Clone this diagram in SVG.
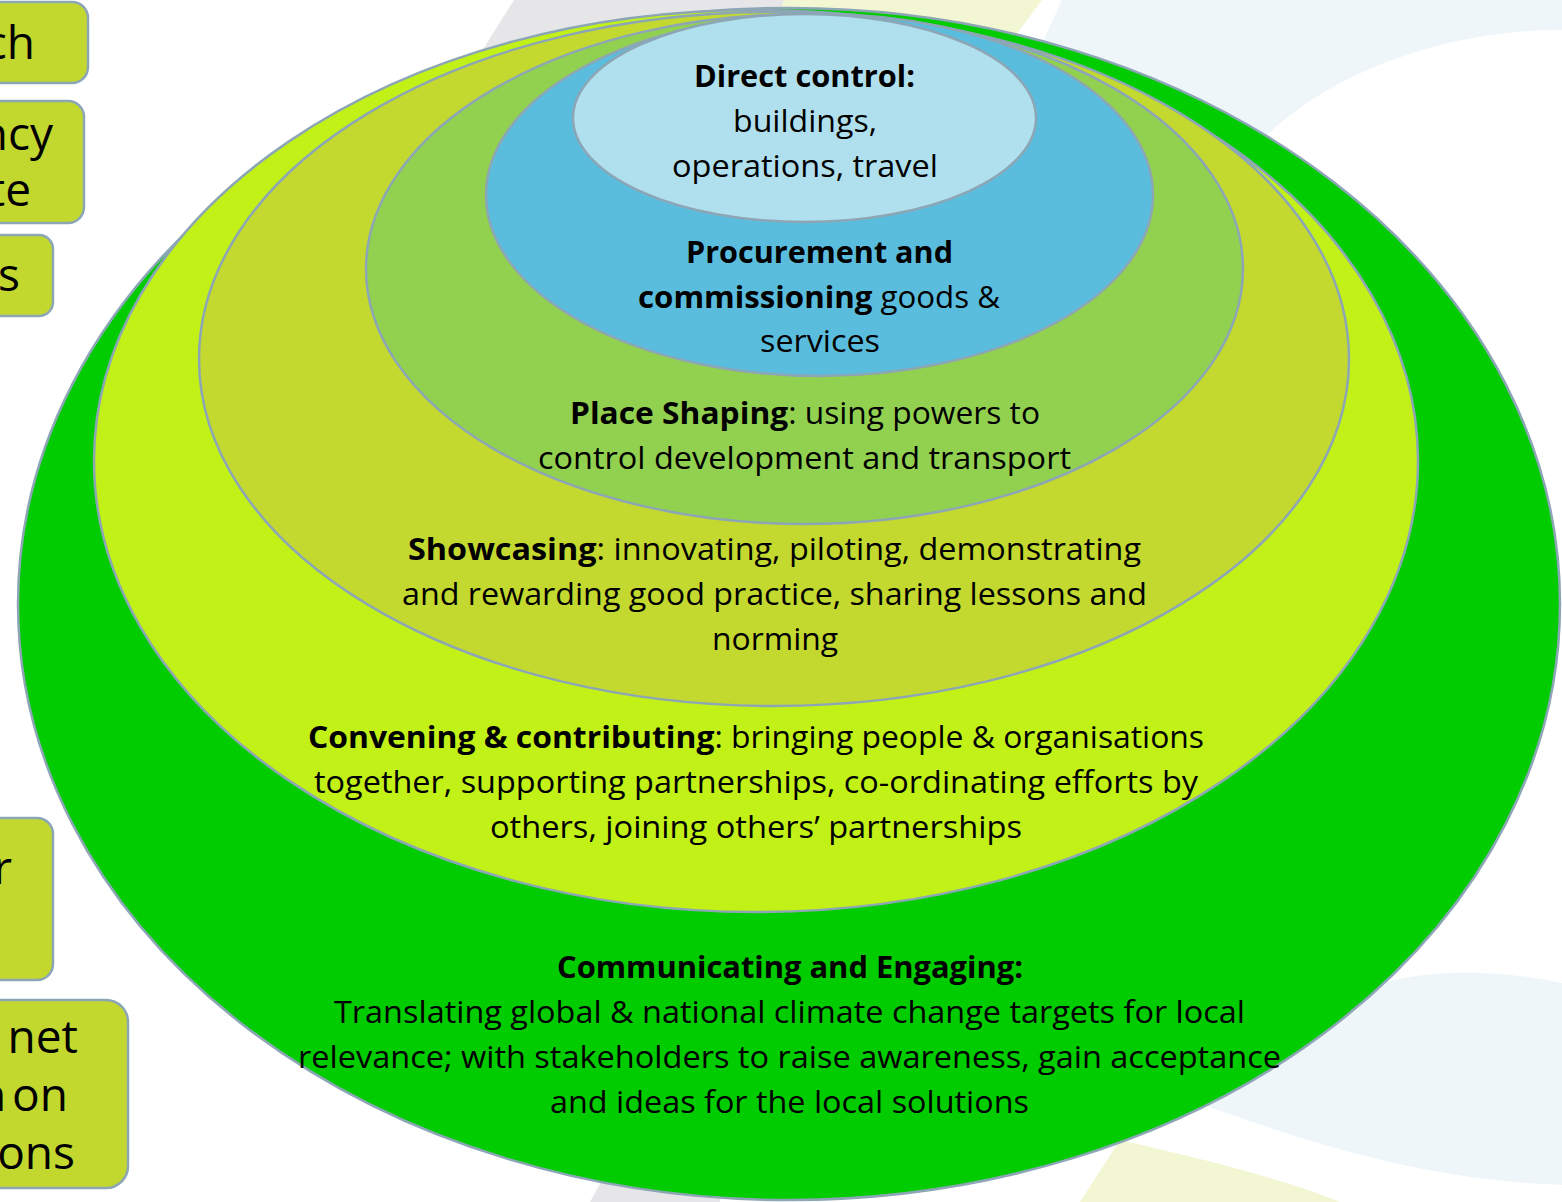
<svg xmlns="http://www.w3.org/2000/svg" width="1562" height="1202" viewBox="0 0 1562 1202">
<style>
.ring{stroke:#8CA6B6;stroke-width:2.5}
.box{fill:#C3D82F;stroke:#8CA6B6;stroke-width:2.5}
.t{font-family:"Open Sans","Noto Sans",sans-serif;font-size:31px;fill:#000;text-anchor:middle}
.b{font-weight:bold}
.bt{font-family:"Open Sans","Noto Sans",sans-serif;font-size:46px;fill:#000;text-anchor:end}
</style>
<rect x="0" y="0" width="1562" height="1202" fill="#FFFFFF"/>
<g id="background">
<path d="M514 0 L784 0 L760 70 L470 70 Z" fill="#E6E6E8"/>
<path d="M784 0 L1042 0 L990 70 L760 70 Z" fill="#F2F6D2"/>
<path d="M1062 0 L1562 0 L1562 30 C1440 30 1330 75 1267 135 L1000 135 Z" fill="#EEF6FA"/>
<path d="M1230 1080 C1300 1000 1400 950 1562 983 L1562 1185 C1420 1180 1300 1140 1190 1100 Z" fill="#EEF6FA"/>
<path d="M1120 1140 C1230 1165 1300 1185 1340 1202 L1080 1202 Z" fill="#F2F6D2"/>
<path d="M590 1202 L605 1175 L720 1175 L720 1202 Z" fill="#E6E6E8"/>
</g>
<g id="box1"><rect class="box" x="-20" y="2" width="108" height="81" rx="16"/><text class="bt" x="35" y="59">ch</text></g>
<g id="box2"><rect class="box" x="-20" y="101" width="104" height="122" rx="16"/><text class="bt" x="53" y="150">ncy</text><text class="bt" x="31" y="206">te</text></g>
<g id="box3"><rect class="box" x="-20" y="235" width="73" height="81" rx="14"/><text class="bt" x="20" y="291">s</text></g>
<g id="box4"><rect class="box" x="-20" y="818" width="73" height="162" rx="16"/><text class="bt" x="12" y="884">r</text></g>
<g id="box5"><rect class="box" x="-20" y="1000" width="148" height="188" rx="22"/><text class="bt" x="78" y="1053">net</text><text class="bt" x="68" y="1111" word-spacing="-6">n on</text><text class="bt" x="75" y="1169">ons</text></g>
<g id="communicating">
<ellipse class="ring" cx="789" cy="604" rx="771" ry="596" fill="#00CC00"/>
</g>
<g id="convening">
<ellipse class="ring" cx="756" cy="461" rx="662" ry="451" fill="#C2F118"/>
</g>
<g id="showcasing">
<ellipse class="ring" cx="774" cy="359" rx="575" ry="347" fill="#C4D92F"/>
</g>
<g id="placeshaping">
<ellipse class="ring" cx="804.5" cy="269" rx="438.5" ry="255" fill="#92D050"/>
</g>
<g id="procurement">
<ellipse class="ring" cx="819.5" cy="195" rx="333.5" ry="181" fill="#5BBDDD"/>
</g>
<g id="direct">
<ellipse class="ring" cx="804.5" cy="118" rx="231.5" ry="104" fill="#B0E0EE"/>
</g>
<g id="labels">
<text class="t b" x="804.5" y="87" textLength="221" lengthAdjust="spacingAndGlyphs">Direct control:</text>
<text class="t" x="805" y="132" textLength="144" lengthAdjust="spacingAndGlyphs">buildings,</text>
<text class="t" x="805" y="177" textLength="266" lengthAdjust="spacingAndGlyphs">operations, travel</text>
<text class="t b" x="819.5" y="263" textLength="267" lengthAdjust="spacingAndGlyphs">Procurement and</text>
<text class="t" x="819" y="308" textLength="362" lengthAdjust="spacingAndGlyphs"><tspan class="b">commissioning</tspan> goods &amp;</text>
<text class="t" x="820" y="352" textLength="120" lengthAdjust="spacingAndGlyphs">services</text>
<text class="t" x="805" y="424" textLength="470" lengthAdjust="spacingAndGlyphs"><tspan class="b">Place Shaping</tspan>: using powers to</text>
<text class="t" x="804.5" y="469" textLength="533" lengthAdjust="spacingAndGlyphs">control development and transport</text>
<text class="t" x="774.5" y="560" textLength="733" lengthAdjust="spacingAndGlyphs"><tspan class="b">Showcasing</tspan>: innovating, piloting, demonstrating</text>
<text class="t" x="774.5" y="605" textLength="745" lengthAdjust="spacingAndGlyphs">and rewarding good practice, sharing lessons and</text>
<text class="t" x="775" y="650" textLength="126" lengthAdjust="spacingAndGlyphs">norming</text>
<text class="t" x="756" y="748" textLength="896" lengthAdjust="spacingAndGlyphs"><tspan class="b">Convening &amp; contributing</tspan>: bringing people &amp; organisations</text>
<text class="t" x="756" y="793" textLength="884" lengthAdjust="spacingAndGlyphs">together, supporting partnerships, co-ordinating efforts by</text>
<text class="t" x="756" y="838" textLength="532" lengthAdjust="spacingAndGlyphs">others, joining others’ partnerships</text>
<text class="t b" x="790" y="978" textLength="466" lengthAdjust="spacingAndGlyphs">Communicating and Engaging:</text>
<text class="t" x="789.5" y="1023" textLength="911" lengthAdjust="spacingAndGlyphs">Translating global &amp; national climate change targets for local</text>
<text class="t" x="789.5" y="1068" textLength="983" lengthAdjust="spacingAndGlyphs">relevance; with stakeholders to raise awareness, gain acceptance</text>
<text class="t" x="789.5" y="1113" textLength="479" lengthAdjust="spacingAndGlyphs">and ideas for the local solutions</text>
</g>
<g id="connectors"/>
</svg>
